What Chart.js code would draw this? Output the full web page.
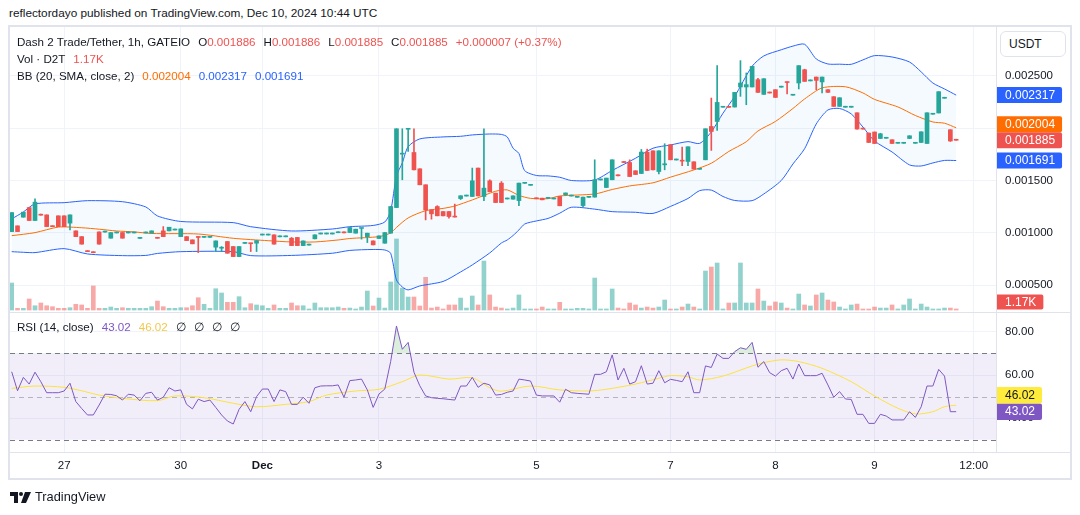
<!DOCTYPE html>
<html lang="en">
<head>
<meta charset="UTF-8" />
<title>Dash 2 Trade/Tether, 1h</title>
<script src="https://cdn.jsdelivr.net/npm/chart.js"></script>
<style>
  body { margin: 0; background: #fff; font-family: 'Liberation Sans', Arial, sans-serif; color: #131722; }
  #wrap { position: relative; width: 1080px; height: 515px; overflow: hidden; }
  #chart { position: absolute; left: 0; top: 0; }
  .txt { position: absolute; white-space: nowrap; font-size: 11.6px; line-height: 17px; }
  .pub { left: 9px; top: 5px; font-size: 11.8px; }
  .r { color: #ef5350; } .o { color: #ff6d00; } .b { color: #2962ff; } .p { color: #7e57c2; } .y { color: #f2c94c; }
  .g { margin-left: 8px; }
  #usdt { position: absolute; left: 1000px; top: 31px; width: 66px; height: 26px; border: 1px solid #e0e3eb; border-radius: 6px;
          font-size: 12px; line-height: 24px; padding-left: 8px; box-sizing: border-box; background: #fff; }
  #footer { position: absolute; left: 10px; top: 488px; font-size: 12.8px; line-height: 18px; display: flex; align-items: center; gap: 4px; }
</style>
</head>
<body>
<div id="wrap">
  <div class="txt pub">reflectordayo published on TradingView.com, Dec 10, 2024 10:44 UTC</div>
  <canvas id="chart" width="1080" height="515"></canvas>
  <div class="txt" id="lg1" style="left:17px;top:33px"></div>
  <div class="txt" id="lg2" style="left:17px;top:50px"></div>
  <div class="txt" id="lg3" style="left:17px;top:67px"></div>
  <div class="txt" id="lg4" style="left:17px;top:318px"></div>
  <div id="usdt">USDT</div>
  <div id="footer">
    <svg width="21" height="11" viewBox="0 0 21 11"><path d="M0 0h8v11H4V4H0z" fill="#131722"/><circle cx="11" cy="2" r="2" fill="#131722"/><path d="M15 0h6l-5 11h-5z" fill="#131722"/></svg>
    <span>TradingView</span>
  </div>
</div>

<script>
  // prices in millionths of USDT (1885 = 0.001885), one bar per hour
  const open = [
    1011,1066,1149,1241,1117,1172,1171,1061,1162,1162,
    1092,1018,963,822,812,1008,1006,948,998,1002,
    998,998,946,998,996,950,1018,1018,1026,963,
    963,932,963,956,956,862,852,916,868,772,
    898,900,900,978,978,980,961,961,948,955,
    877,882,942,988,988,988,1000,1002,1002,996,
    1041,963,922,945,900,996,1241,1752,1990,1768,
    1612,1459,1219,1251,1203,1203,1155,1327,1351,1347,
    1619,1347,1497,1379,1475,1323,1321,1308,1473,1454,
    1327,1331,1329,1323,1347,1362,1351,1339,1260,1339,
    1341,1505,1433,1507,1547,1674,1672,1593,1567,1772,
    1784,1586,1650,1842,1696,1692,1682,1679,1607,1698,
    2017,2065,2201,2202,2203,2395,2395,2395,2465,2324,
    2339,2369,2393,2443,2316,2433,2560,2453,2490,2443,
    2369,2302,2209,2201,2201,2148,1994,1954,1964,1902,
    1904,1890,1856,1856,1902,1856,1864,1854,2134,2146,
    2287,1986,1886];
  const high = [
    1193,1066,1197,1241,1325,1172,1171,1061,1162,1162,
    1171,1018,963,822,812,1008,1008,1002,1000,1002,
    1000,1000,948,1000,1018,950,1059,1053,1028,1037,
    963,932,963,958,958,922,868,916,868,868,
    900,900,925,980,980,980,963,963,955,955,
    922,884,980,990,990,990,1002,1002,1050,1034,
    1043,996,922,970,1002,1251,1995,1995,1995,1995,
    1612,1459,1219,1259,1203,1203,1274,1354,1353,1619,
    1619,1995,1507,1379,1490,1325,1353,1475,1475,1456,
    1327,1331,1331,1325,1347,1381,1353,1341,1341,1341,
    1698,1507,1523,1698,1547,1674,1698,1593,1797,1800,
    1784,1784,1852,1842,1698,1820,1823,1679,1609,1995,
    2289,2599,2203,2202,2343,2647,2529,2592,2478,2474,
    2339,2369,2395,2443,2318,2599,2565,2455,2490,2490,
    2369,2302,2292,2203,2203,2148,1994,1954,1964,1952,
    1906,1890,1858,1858,1928,1858,1966,2148,2136,2350,
    2289,1986,1886];
  const low = [
    1011,1011,1149,1117,1117,1168,1059,1058,1059,1059,
    1028,963,891,819,809,891,1006,948,998,948,
    998,998,946,998,996,947,963,1018,1026,963,
    925,894,810,956,956,820,820,804,772,772,
    898,820,820,978,978,891,961,961,877,877,
    877,882,942,988,988,988,1000,999,1002,996,
    939,906,884,945,900,996,1241,1507,1778,1602,
    1459,1123,1130,1162,1162,1140,1150,1318,1351,1347,
    1353,1308,1392,1289,1289,1323,1321,1258,1473,1454,
    1325,1315,1329,1323,1258,1362,1351,1339,1250,1339,
    1341,1505,1433,1507,1545,1672,1538,1557,1567,1596,
    1602,1564,1602,1698,1696,1641,1641,1609,1607,1698,
    1788,1979,2201,2200,2203,2305,2225,2395,2343,2324,
    2337,2295,2393,2328,2316,2376,2448,2453,2369,2337,
    2343,2209,2209,2201,2201,1992,1992,1864,1854,1902,
    1904,1854,1856,1856,1902,1856,1864,1854,2134,2146,
    2287,1874,1885];
  const close = [
    1193,1011,1197,1117,1293,1168,1059,1058,1059,1059,
    1171,963,891,819,809,891,1008,1002,1000,948,
    1000,1000,948,1000,1018,947,963,1053,1028,1037,
    925,894,955,958,958,922,860,804,772,868,
    900,895,925,980,980,891,963,963,877,877,
    922,884,980,990,990,990,1002,999,1050,1034,
    1043,996,884,970,1002,1251,1995,1762,1995,1602,
    1459,1219,1181,1162,1162,1155,1150,1354,1353,1497,
    1353,1427,1392,1289,1289,1325,1353,1475,1475,1456,
    1325,1315,1331,1325,1258,1381,1353,1341,1341,1341,
    1507,1507,1523,1698,1545,1672,1538,1557,1772,1596,
    1602,1784,1660,1698,1698,1685,1823,1609,1609,1995,
    1969,2247,2203,2200,2343,2433,2417,2592,2343,2474,
    2337,2295,2395,2437,2318,2599,2448,2455,2458,2490,
    2343,2209,2292,2203,2203,1992,1992,1864,1854,1947,
    1906,1854,1858,1858,1928,1858,1966,2148,2136,2350,
    2289,1878,1885];
  // volume in thousands of D2T
  const volK = [
    31.6,2.0,2.0,12.9,5.0,8.2,5.0,3.9,2.0,2.0,
    2.7,6.7,5.9,2.0,28.1,2.0,2.0,3.5,2.0,2.7,
    2.0,2.0,2.0,2.0,3.9,10.5,3.9,2.0,2.0,2.7,
    2.7,5.0,14.4,6.7,2.0,24.9,19.9,9.0,9.0,15.6,
    2.7,7.4,5.9,5.0,2.0,5.9,2.0,2.0,8.2,5.0,
    5.0,1.2,8.2,2.7,2.7,2.7,3.5,2.0,2.3,1.2,
    3.5,22.2,4.7,14.0,2.3,32.8,83.1,25.7,15.2,15.2,
    4.7,38.3,2.3,3.5,1.2,5.9,5.9,14.0,2.3,16.4,
    5.9,57.3,17.6,3.5,2.3,1.2,2.3,17.6,1.2,1.2,
    1.2,3.5,1.2,1.2,9.0,1.2,1.2,2.0,2.0,1.2,
    37.4,1.2,1.2,24.6,2.3,1.2,8.2,5.9,2.3,3.5,
    2.3,3.5,11.7,1.2,1.2,3.5,7.0,3.5,1.2,45.6,
    50.3,55.0,1.2,8.2,8.2,55.0,8.2,8.2,24.6,10.5,
    4.7,9.4,8.2,2.3,1.2,18.7,5.9,4.7,17.6,19.9,
    11.7,9.4,3.5,1.2,5.9,7.0,1.2,1.2,3.5,2.3,
    2.3,5.9,1.2,5.9,12.9,1.2,7.0,3.5,1.2,1.2,
    2.3,2.3,1.17];

  // Bollinger bands (20, 2) read at these bar indices
  const bandX = [0,2,4,9,13,19,23,25,29,38,41,48,55,58,62,64,65,66,67,68,70,74,77,79,82,84,85,86,87,88,
    90,92,94,96,100,103,107,110,113,116,118,120,122,124,127,129,132,134,136,138,140,142,144,146,148,151,154,156,158,160,162];
  const bbUpper = [1132,1199,1276,1288,1307,1297,1247,1161,1108,1097,1058,1017,1036,1058,1070,1103,1209,1544,1668,1824,
    1898,1917,1923,1936,1945,1941,1917,1809,1759,1594,1548,1544,1531,1500,1505,1596,1713,1809,1840,1872,
    1855,1965,2144,2304,2593,2692,2751,2786,2804,2663,2615,2613,2612,2654,2695,2682,2634,2539,2433,2376,2317];
  const bbLower = [819,813,810,848,797,781,783,802,819,819,781,783,804,831,840,835,804,548,481,453,
    491,534,625,692,807,902,931,974,1027,1084,1113,1137,1187,1244,1226,1202,1196,1185,1252,1328,
    1403,1408,1347,1309,1307,1371,1500,1658,1804,2041,2175,2189,2137,2012,1878,1773,1649,1639,1668,1692,1691];
  const midX = [0,4,8,12,15,18,21,24,32,38,44,48,52,56,58,63,65,66,68,71,74,76,79,83,85,87,89,92,94,100,
    103,106,110,113,117,120,123,126,128,131,134,136,139,143,146,148,152,155,158,160,162];
  const bbMid = [972,1001,1054,1048,1034,1017,1008,993,988,947,924,912,912,931,945,963,998,1051,1142,1211,
    1233,1256,1314,1397,1410,1357,1329,1326,1352,1371,1414,1448,1478,1532,1601,1665,1778,1871,1974,2065,
    2189,2280,2386,2397,2338,2276,2204,2122,2060,2048,2004];

  const rsi = [
    61.5,52.7,58.9,55.8,61.3,56.9,51.8,51.8,51.8,52.6,
    56.2,47.7,44.5,41.5,41.5,46.1,51.1,51.0,50.4,48.4,
    51.1,50.7,48.1,51.5,52.0,48.4,49.7,54.1,52.6,53.1,
    46.4,44.3,48.8,47.7,48.4,45.0,41.5,38.7,37.3,44.1,
    47.7,43.0,50.0,53.5,53.5,47.7,53.1,52.3,46.4,46.4,
    49.7,46.9,54.1,54.9,55.0,55.0,55.4,49.7,57.4,57.7,
    58.1,53.1,45.0,51.2,53.5,66.2,82.7,71.9,75.1,61.3,
    55.0,50.3,49.5,49.2,49.0,48.7,48.4,54.9,54.9,58.9,
    54.3,56.2,55.4,50.7,51.0,52.0,52.6,58.1,57.7,57.2,
    50.7,50.3,50.3,50.3,47.4,53.4,51.8,51.5,51.3,51.1,
    60.3,60.3,61.5,69.3,57.7,63.1,55.8,56.9,64.3,55.8,
    56.2,62.0,56.4,58.0,57.5,56.9,61.5,51.8,51.8,64.2,
    63.5,69.7,67.7,67.7,70.8,72.6,71.9,75.1,63.6,66.2,
    61.1,59.5,62.0,63.1,58.1,65.1,59.7,59.7,59.7,60.8,
    55.4,49.7,52.3,48.9,48.7,41.8,41.8,37.6,37.6,41.8,
    41.0,39.2,39.2,39.2,43.0,40.4,45.3,54.9,54.9,62.6,
    59.5,43.0,43.02];
  const rsiMaX = [0,4,9,12,15,19,25,28,33,38,42,47,51,54,59,63,67,70,75,79,82,84,89,94,99,102,107,111,113,116,
    118,122,127,129,132,135,139,144,148,152,155,158,160,162];
  const rsiMa = [53.8,54.9,54.3,52.7,50.7,49.2,48.1,50.3,49.5,46.9,45.3,46.4,47.7,50.7,52.6,53.4,56.9,60.0,58.1,58.7,
    54.1,52.5,54.9,53.1,52.6,53.4,55.8,58.5,59.7,59.2,57.7,59.5,64.2,65.7,67.0,66.2,63.1,56.9,50.3,44.6,
    42.0,43.0,45.3,46.02];

  const timeTicks = [9, 29, 43, 63, 90, 113, 131, 148, 165];
  const timeLabels = ['27', '30', 'Dec', '3', '5', '7', '8', '9', '12:00'];
  const priceTicks = [500, 1000, 1500, 2000, 2500];
  const rsiTicks = [40, 60, 80];
  const rsiLevels = [30, 50, 70];

  const UP = '#26a69a', DOWN = '#ef5350';
  const FONT = '"Liberation Sans", Arial, sans-serif';
  const idx = close.map((_, i) => i);
  const isUp = idx.map(i => close[i] >= open[i]);
  const fmtP = v => (v / 1e6).toFixed(6);
  const pts = (xs, ys) => xs.map((x, k) => ({ x: x, y: ys[k] }));

  // legends
  const n = close.length - 1;
  const chg = close[n] - close[n - 1];
  document.getElementById('lg1').innerHTML =
    'Dash 2 Trade/Tether, 1h, GATEIO' +
    '<span class="g">O</span><span class="r">' + fmtP(open[n]) + '</span>' +
    '<span class="g">H</span><span class="r">' + fmtP(high[n]) + '</span>' +
    '<span class="g">L</span><span class="r">' + fmtP(low[n]) + '</span>' +
    '<span class="g">C</span><span class="r">' + fmtP(close[n]) + '</span>' +
    '<span class="g r">' + (chg >= 0 ? '+' : '') + fmtP(chg) + ' (' + (chg >= 0 ? '+' : '') + (chg / close[n - 1] * 100).toFixed(2) + '%)</span>';
  document.getElementById('lg2').innerHTML = 'Vol · D2T<span class="g r">' + volK[n].toFixed(2) + 'K</span>';
  document.getElementById('lg3').innerHTML = 'BB (20, SMA, close, 2)' +
    '<span class="g o">' + fmtP(bbMid.at(-1)) + '</span>' +
    '<span class="g b">' + fmtP(bbUpper.at(-1)) + '</span>' +
    '<span class="g b">' + fmtP(bbLower.at(-1)) + '</span>';
  document.getElementById('lg4').innerHTML = 'RSI (14, close)' +
    '<span class="g p">' + rsi[n].toFixed(2) + '</span>' +
    '<span class="g y">' + rsiMa.at(-1).toFixed(2) + '</span>' +
    '<span class="g">∅</span><span class="g">∅</span><span class="g">∅</span><span class="g">∅</span>';

  function stackTags(tags, h) {
    tags.sort((a, b) => b.y - a.y);
    for (let k = 1; k < tags.length; k++) {
      if (tags[k - 1].y - tags[k].y < h) tags[k].y = tags[k - 1].y - h;
    }
    return tags;
  }

  function drawTag(ctx, t, h) {
    ctx.font = '12px ' + FONT;
    const w = ctx.measureText(t.text).width + 15;
    ctx.fillStyle = t.bg;
    ctx.beginPath();
    ctx.roundRect(997, t.y - h / 2, w, h, [0, 2, 2, 0]);
    ctx.fill();
    ctx.fillStyle = t.fg || '#fff';
    ctx.textBaseline = 'middle';
    ctx.textAlign = 'left';
    ctx.fillText(t.text, 1005, t.y + 0.5);
  }

  const panes = {
    id: 'panes',
    beforeDatasetsDraw(chart) {
      const { ctx, chartArea: a, scales } = chart;
      const r = scales.yRsi;
      const yTop = r.getPixelForValue(rsiLevels[2]), yBot = r.getPixelForValue(rsiLevels[0]);
      ctx.save();
      ctx.fillStyle = 'rgba(126,87,194,0.1)';
      ctx.fillRect(a.left, yTop, a.right - a.left, yBot - yTop);
      ctx.lineWidth = 1;
      ctx.setLineDash([5, 4]);
      rsiLevels.forEach(v => {
        const y = Math.round(r.getPixelForValue(v)) + 0.5;
        ctx.strokeStyle = v === 50 ? 'rgba(120,123,134,0.5)' : '#787b86';
        ctx.beginPath(); ctx.moveTo(a.left, y); ctx.lineTo(a.right, y); ctx.stroke();
      });
      ctx.restore();
    },
    afterDraw(chart) {
      const { ctx, chartArea: a, scales } = chart;
      ctx.save();
      ctx.strokeStyle = '#e0e3eb';
      ctx.lineWidth = 1;
      const sep = Math.round(scales.yRsi.top) + 0.5;
      ctx.beginPath();
      ctx.moveTo(a.left, sep); ctx.lineTo(1070, sep);
      ctx.moveTo(a.left, a.bottom + 0.5); ctx.lineTo(1070, a.bottom + 0.5);
      ctx.stroke();
      ctx.lineWidth = 2;
      ctx.strokeRect(9, 26, 1062, 453);

      const y = scales.y, r = scales.yRsi, v = scales.yVol;
      stackTags([
        { v: bbUpper.at(-1), bg: '#2962ff' },
        { v: bbMid.at(-1), bg: '#ff6d00' },
        { v: close[n], bg: isUp[n] ? UP : DOWN },
        { v: bbLower.at(-1), bg: '#2962ff' }
      ].map(t => ({ ...t, y: y.getPixelForValue(t.v), text: fmtP(t.v) })), 16).forEach(t => drawTag(ctx, t, 16));

      stackTags([
        { v: rsi[n], bg: '#7e57c2' },
        { v: rsiMa.at(-1), bg: '#ffeb3b', fg: '#131722' }
      ].map(t => ({ ...t, y: r.getPixelForValue(t.v), text: t.v.toFixed(2) })), 16.5).forEach(t => drawTag(ctx, t, 16.5));

      drawTag(ctx, { bg: isUp[n] ? UP : DOWN, text: volK[n].toFixed(2) + 'K',
        y: Math.min(v.getPixelForValue(volK[n]), y.bottom - 10) }, 15);
      ctx.restore();
    }
  };

  const tickFont = { family: FONT, size: 11.5 };

  new Chart(document.getElementById('chart'), {
    type: 'bar',
    data: {
      datasets: [
        { label: 'body', data: idx.map(i => ({ x: i, y: [open[i], close[i]] })),
          backgroundColor: idx.map(i => isUp[i] ? UP : DOWN), barThickness: 4, minBarLength: 1,
          grouped: false, yAxisID: 'y', order: 0 },
        { label: 'wick', data: idx.map(i => ({ x: i, y: [low[i], high[i]] })),
          backgroundColor: idx.map(i => isUp[i] ? UP : DOWN), barThickness: 1, minBarLength: 1,
          grouped: false, yAxisID: 'y', order: 1 },
        { type: 'line', label: 'upper', data: pts(bandX, bbUpper), borderColor: '#2962ff', borderWidth: 1,
          pointRadius: 0, tension: 0.25, fill: '+1', backgroundColor: 'rgba(33,150,243,0.05)', yAxisID: 'y', order: 3 },
        { type: 'line', label: 'lower', data: pts(bandX, bbLower), borderColor: '#2962ff', borderWidth: 1,
          pointRadius: 0, tension: 0.25, fill: false, yAxisID: 'y', order: 3 },
        { type: 'line', label: 'basis', data: pts(midX, bbMid), borderColor: '#ff6d00', borderWidth: 1,
          pointRadius: 0, tension: 0.25, fill: false, yAxisID: 'y', order: 2 },
        { label: 'volume', data: idx.map(i => ({ x: i, y: volK[i] })),
          backgroundColor: idx.map(i => isUp[i] ? 'rgba(38,166,154,0.5)' : 'rgba(239,83,80,0.5)'),
          barThickness: 4, grouped: false, yAxisID: 'yVol', order: 6 },
        { type: 'line', label: 'RSI', data: idx.map(i => ({ x: i, y: rsi[i] })), borderColor: '#7e57c2', borderWidth: 1,
          pointRadius: 0, tension: 0, yAxisID: 'yRsi', order: 1,
          fill: { target: { value: 70 }, above: 'rgba(76,175,80,0.2)', below: 'rgba(0,0,0,0)' } },
        { type: 'line', label: 'RSI MA', data: pts(rsiMaX, rsiMa), borderColor: '#fbe23f', borderWidth: 1,
          pointRadius: 0, tension: 0.3, fill: false, yAxisID: 'yRsi', order: 2 }
      ]
    },
    options: {
      responsive: false,
      animation: false,
      events: [],
      layout: { padding: { left: 10, top: 27, right: 10, bottom: 37 } },
      plugins: { legend: { display: false }, tooltip: { enabled: false } },
      scales: {
        x: {
          type: 'linear', min: -0.29, max: 168.83, offset: false,
          grid: { color: '#f0f3fa', drawTicks: false, offset: false },
          border: { color: '#e0e3eb' },
          afterBuildTicks: s => { s.ticks = timeTicks.map(v => ({ value: v })); },
          afterFit: s => { s.height = 26; },
          ticks: {
            padding: 7, color: '#131722', maxRotation: 0, autoSkip: false,
            font: c => ({ family: FONT, size: 11.5, weight: c.tick && c.tick.value === 43 ? 'bold' : 'normal' }),
            callback: v => timeLabels[timeTicks.indexOf(v)]
          }
        },
        y: {
          position: 'right', stack: 'pane', stackWeight: 285, weight: 1,
          min: 241.7, max: 2968.8,
          grid: { color: '#f0f3fa', drawTicks: false },
          border: { color: '#e0e3eb' },
          afterBuildTicks: s => { s.ticks = priceTicks.map(v => ({ value: v })); },
          afterFit: s => { s.width = 74; },
          ticks: { padding: 9, color: '#131722', font: tickFont, callback: v => fmtP(v) }
        },
        yRsi: {
          position: 'right', stack: 'pane', stackWeight: 140, weight: 2,
          min: 24.35, max: 89.17,
          grid: { color: '#f0f3fa', drawTicks: false },
          border: { color: '#e0e3eb' },
          afterBuildTicks: s => { s.ticks = rsiTicks.map(v => ({ value: v })); },
          afterFit: s => { s.width = 74; },
          ticks: { padding: 9, color: '#131722', font: tickFont, callback: v => v.toFixed(2) }
        },
        yVol: { position: 'left', display: false, min: -166.1, max: 331.1 }
      }
    },
    plugins: [panes]
  });
</script>
</body>
</html>
